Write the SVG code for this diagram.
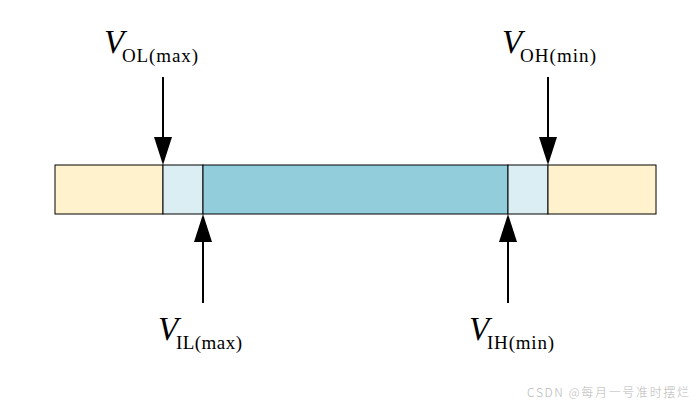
<svg xmlns="http://www.w3.org/2000/svg" width="696" height="406" viewBox="0 0 696 406">
<style>
.seg{stroke:#000;stroke-width:1}
.v{font-family:"Liberation Serif",serif;font-style:italic;font-size:33px;fill:#000}
.sub{font-family:"Liberation Serif",serif;font-size:19px;fill:#000}
.conn line{stroke:#000;stroke-width:2}
.conn path{fill:#000}
.wm{font-family:"Noto Sans CJK SC","Noto Sans",sans-serif;font-size:12px;font-weight:300;fill:#b8b8b8}
</style>
<rect width="696" height="406" fill="#fff"/>
<g id="bar">
<rect class="seg" x="55" y="165" width="108" height="49" fill="#FFF2CC"/>
<rect class="seg" x="163" y="165" width="40" height="49" fill="#DAEEF3"/>
<rect class="seg" x="203" y="165" width="305" height="49" fill="#92CDDC"/>
<rect class="seg" x="508" y="165" width="40" height="49" fill="#DAEEF3"/>
<rect class="seg" x="548" y="165" width="108" height="49" fill="#FFF2CC"/>
</g>
<g class="conn" id="connectors">
<line x1="163" y1="77" x2="163" y2="140"/>
<path d="M154,137 L172,137 L163,165 Z"/>
<line x1="548" y1="77" x2="548" y2="140"/>
<path d="M539,137 L557,137 L548,165 Z"/>
<line x1="203" y1="303" x2="203" y2="239"/>
<path d="M194,242 L212,242 L203,214 Z"/>
<line x1="508" y1="303" x2="508" y2="239"/>
<path d="M499,242 L517,242 L508,214 Z"/>
</g>
<g id="vol"><text class="v" x="104" y="53">V</text><text class="sub" x="122" y="62" textLength="76" lengthAdjust="spacing">OL(max)</text></g>
<g id="voh"><text class="v" x="502" y="53">V</text><text class="sub" x="520" y="62" textLength="76" lengthAdjust="spacing">OH(min)</text></g>
<g id="vil"><text class="v" x="158" y="340">V</text><text class="sub" x="176" y="349" textLength="66" lengthAdjust="spacing">IL(max)</text></g>
<g id="vih"><text class="v" x="469" y="340">V</text><text class="sub" x="487" y="349" textLength="67" lengthAdjust="spacing">IH(min)</text></g>
<text class="wm" x="527" y="397" textLength="162" lengthAdjust="spacing">CSDN @每月一号准时摆烂</text>
</svg>
